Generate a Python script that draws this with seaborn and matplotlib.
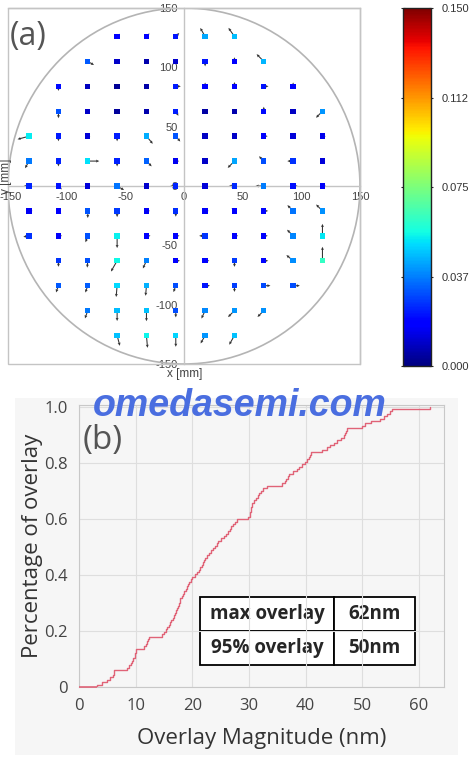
import numpy as np
import pandas as pd
import seaborn as sns
import matplotlib as mpl
import matplotlib.pyplot as plt
from matplotlib.patches import Circle, Rectangle
from matplotlib.transforms import ScaledTranslation

n = np.nan

# die centres on the wafer (mm)
col_x = [-132, -107, -82, -57, -32, -7, 18, 43, 68, 93, 118]
row_y = [126, 105, 84, 63, 42, 21, 0, -21, -42, -63, -84, -105, -126]

# overlay magnitude per die (nm), one list per row, nan = no die
mag_rows = [
    [n, n, n, 17.1, 19.2, 21.9, 43.7, 46.8, n, n, n],
    [n, n, 32.1, 9.4, 6.0, 10.0, 22.1, 18.4, 45.5, n, n],
    [n, 20.4, 8.5, 3.2, 5.5, 22.3, 16.9, 19.0, 21.1, 17.3, n],
    [n, 30.9, 9.6, 4.0, 6.1, 23.3, 5.0, 6.2, 20.0, 8.9, 40.9],
    [53.8, 22.6, 11.4, 22.9, 44.2, 31.2, 9.2, 9.8, 17.5, 12.0, 14.6],
    [36.6, 23.7, 51.6, 24.0, 33.1, 15.0, 9.9, 42.8, 30.3, 26.0, 12.1],
    [24.3, 21.4, 11.8, 35.8, 10.0, 24.6, 12.3, 25.1, 37.1, 20.8, 16.1],
    [15.3, 17.6, 31.5, 27.5, 15.6, 25.6, 15.9, 17.8, 19.4, 36.3, 40.3],
    [26.3, 16.3, 30.5, 54.3, 18.2, 16.5, 26.6, 16.7, 17.9, 38.4, 53.1],
    [n, 26.9, 30.6, 55.2, 37.7, 18.6, 18.8, 27.2, 19.7, 39.4, 62.0],
    [n, 31.8, 32.4, 50.5, 45.0, 30.4, 21.7, 27.8, 29.8, 30.1, n],
    [n, n, 36.9, 46.3, 47.0, 30.2, 38.9, 40.7, 39.9, n, n],
    [n, n, n, 47.3, 54.8, 50.0, 40.5, 47.1, n, n, n],
]

# direction of the overlay vector per die (deg)
ang_rows = [
    [n, n, n, 45, 45, 45, 120, 125, n, n, n],
    [n, n, -30, 0, 0, 0, -90, 90, 135, n, n],
    [n, -90, 0, 0, 0, 0, 90, 90, 0, 90, n],
    [n, -90, 0, 0, 0, -60, 0, 0, 90, 0, -135],
    [195, -90, 0, -90, -50, -50, 0, 0, 0, 0, 0],
    [-120, -90, 0, -90, -45, 0, 0, -135, 135, 180, 0],
    [180, -45, 0, -30, 0, 180, 0, 180, 180, 0, 0],
    [0, -45, -90, -90, 0, -90, 0, 135, 0, 135, 135],
    [190, 0, -110, -90, 0, 0, 180, 0, 0, 135, 90],
    [n, -90, -95, -120, -115, 0, 0, -90, 0, 140, 90],
    [n, -110, -110, -95, -95, -110, 0, -90, 0, 0, n],
    [n, n, -110, -90, -90, -90, -115, -135, -135, n, n],
    [n, n, n, -75, -85, -90, -120, -120, n, n, n],
]

cbar_ticks = [0, 0.0375, 0.075, 0.1125, 0.15]
cbar_labels = ['0.000', '0.037', '0.075', '0.112', '0.150']
table_text = [['max overlay', '62nm'], ['95% overlay', '50nm']]

gx, gy = np.meshgrid(col_x, row_y)
df = pd.DataFrame({'x': gx.ravel(), 'y': gy.ravel(),
                   'mag': np.array(mag_rows, float).ravel(),
                   'ang': np.array(ang_rows, float).ravel()}).dropna()
df['ovl'] = df['mag'] / 1000  # um, for the colour scale

sns.set_style('white')
plt.rcParams['font.family'] = ['Liberation Sans', 'DejaVu Sans']
plt.rcParams['axes.unicode_minus'] = False
jet = mpl.colormaps['jet']

fig = plt.figure(figsize=(4.77, 7.6), dpi=100)

# ---- (a) wafer map ----
ax = fig.add_axes([8/477, 1-364/760, 352/477, 356/760])
L = df['mag'] * 0.19
u = L * np.cos(np.deg2rad(df['ang']))
v = L * np.sin(np.deg2rad(df['ang']))
ax.quiver(df['x'], df['y'], u, v, angles='xy', scale_units='xy', scale=1,
          width=0.003, headwidth=2.8, headlength=3, headaxislength=2.7,
          minlength=0, color='#333333', zorder=2)
sns.scatterplot(data=df, x='x', y='y', hue='ovl', palette=jet, hue_norm=(0, 0.15),
                marker='s', s=15, linewidth=0, legend=False, ax=ax, zorder=3)
ax.add_patch(Circle((0, 0), 150, fill=False, ec='#b4b4b4', lw=1.2, zorder=1))
ax.set_xlim(-150, 150)
ax.set_ylim(-150, 150)
ax.spines['left'].set_position('zero')
ax.spines['bottom'].set_position('zero')
for sp in ax.spines.values():
    sp.set_color('#c4c4c4')
    sp.set_linewidth(1)
ax.add_patch(Rectangle((0, 0), 1, 1, transform=ax.transAxes, fill=False,
                       ec='#c4c4c4', lw=1, clip_on=False))
ax.set_xticks(range(-150, 151, 50))
ax.set_yticks(range(-150, 151, 50))
ax.tick_params(direction='inout', length=5, color='#aaaaaa', labelsize=8,
               labelcolor='#444444', pad=2)
first = ax.get_xticklabels()[0]
first.set_transform(first.get_transform() + ScaledTranslation(3/100, 0, fig.dpi_scale_trans))
ax.set_xlabel('')
ax.set_ylabel('')
fig.text(185/477, 1-374/760, 'x [mm]', ha='center', va='center', fontsize=8.5, color='#444444')
fig.text(6/477, 1-176/760, 'y [mm]', ha='center', va='center', rotation=90,
         fontsize=8.5, color='#444444')
fig.text(10/477, 1-37/760, '(a)', va='center', fontsize=23, color='#555555',
         family='Open Sans')

cax = fig.add_axes([403/477, 1-366/760, 28/477, 358/760])
cb = fig.colorbar(mpl.cm.ScalarMappable(norm=mpl.colors.Normalize(0, 0.15), cmap=jet),
                  cax=cax, ticks=cbar_ticks)
cb.ax.set_yticklabels(cbar_labels)
cb.outline.set_edgecolor('#222222')
cb.outline.set_linewidth(1)
cax.tick_params(direction='inout', length=3, labelsize=8, labelcolor='#333333',
                pad=6, left=True)

# ---- (b) cumulative distribution ----
fig.add_artist(Rectangle((15/477, 1-755/760), 443/477, 357/760, transform=fig.transFigure,
                         facecolor='#f6f6f6', edgecolor='none', zorder=-1))
bx = fig.add_axes([79/477, 1-687/760, 365/477, 282/760])
bx.set_facecolor('none')
sns.ecdfplot(x=df['mag'], ax=bx, color='#e06377', lw=1)
# seaborn starts the curve at -inf, which matplotlib leaves out
bx.hlines(0, 0, df['mag'].min(), color='#e06377', lw=1.2, clip_on=False, zorder=4)
bx.set_xlim(0, 64.4)
bx.set_ylim(0, 1.006)
bx.set_xticks(range(0, 61, 10))
bx.set_yticks([0, 0.2, 0.4, 0.6, 0.8, 1.0])
bx.set_yticklabels(['0', '0.2', '0.4', '0.6', '0.8', '1.0'])
bx.grid(True, color='#dedede', lw=0.8)
for sp in bx.spines.values():
    sp.set_color('#c8c8c8')
bx.tick_params(length=0, labelsize=12, labelcolor='#444444', pad=8)
for lbl in bx.get_xticklabels() + bx.get_yticklabels():
    lbl.set_fontfamily('Open Sans')
bx.set_xlabel('Overlay Magnitude (nm)', fontsize=16, color='#333333', family='Open Sans', labelpad=10)
bx.set_ylabel('Percentage of overlay', fontsize=16, color='#333333', family='Open Sans', labelpad=1)

tb = bx.table(cellText=table_text, colWidths=[0.367, 0.222], cellLoc='center',
              bbox=[0.332, 0.079, 0.589, 0.239])
tb.auto_set_font_size(False)
for cell in tb.get_celld().values():
    cell.set_edgecolor('black')
    cell.set_linewidth(1.3)
    cell.set_facecolor('white')
    cell.get_text().set_fontsize(13.5)
    cell.get_text().set_fontweight('bold')
    cell.get_text().set_fontfamily('Open Sans')

fig.text(83/477, 1-440/760, '(b)', va='center', fontsize=24, color='#555555', family='Open Sans')
fig.text(240/477, 1-406/760, 'omedasemi.com', ha='center', va='center', fontsize=27,
         fontweight='bold', fontstyle='italic', color='#4a6ee0', family='Liberation Sans',
         zorder=10)

fig.savefig('out.png', dpi=100)
